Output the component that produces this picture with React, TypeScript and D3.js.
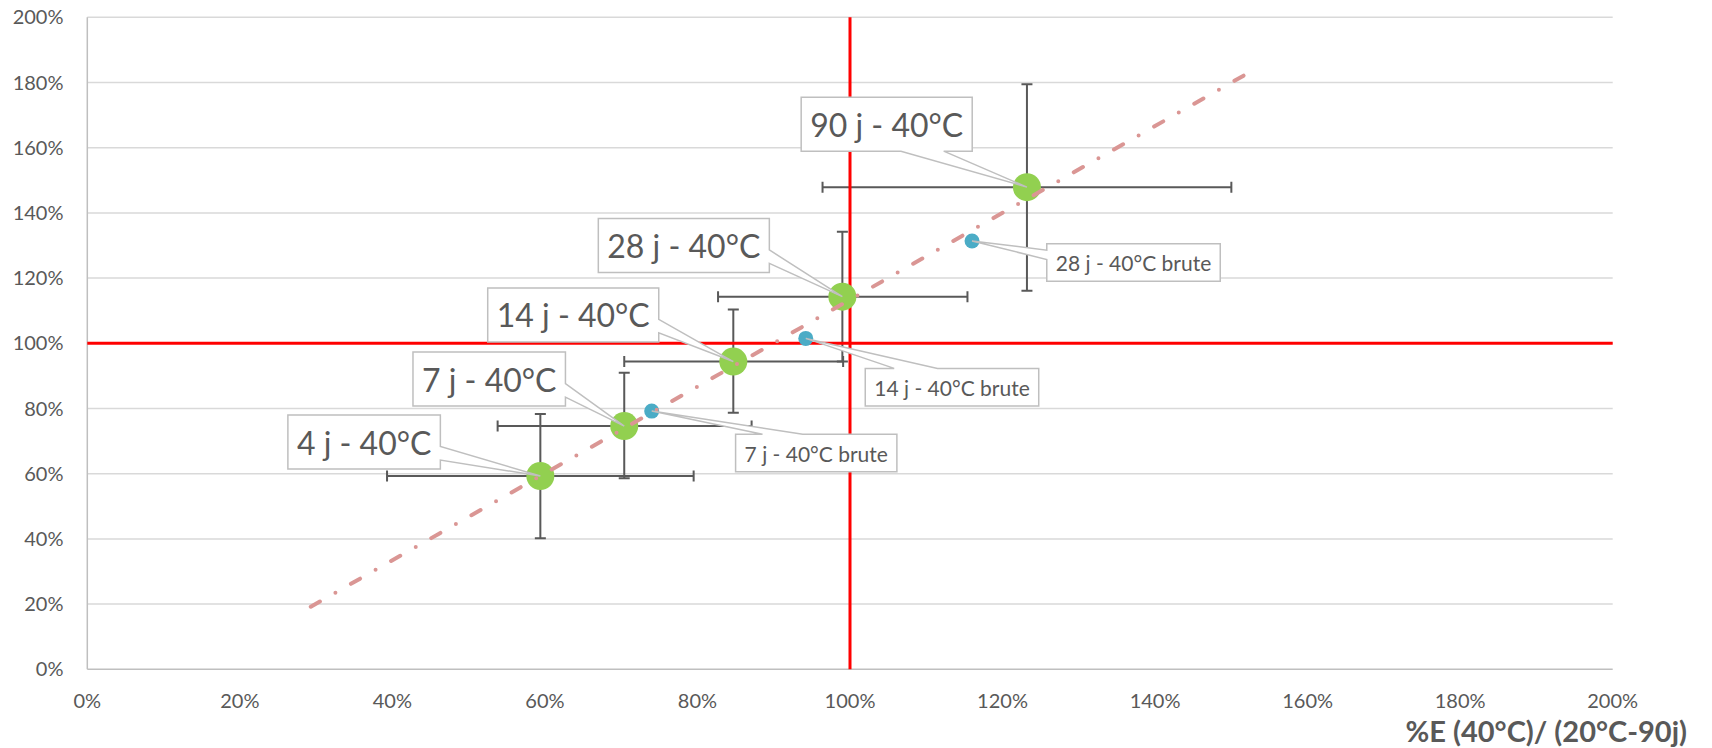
import React, { useRef, useEffect } from 'react';
import * as d3 from 'd3';

const WIDTH = 1712;
const HEIGHT = 748;

// 40°C series (green), values as fraction of the 20°C-90j reference
const agedLabels = ['4 j - 40°C', '7 j - 40°C', '14 j - 40°C', '28 j - 40°C', '90 j - 40°C'];
const agedX = [0.594, 0.704, 0.847, 0.99, 1.232];
const agedY = [0.593, 0.746, 0.944, 1.143, 1.479];
const agedXLow = [0.393, 0.538, 0.704, 0.827, 0.964];
const agedXHigh = [0.795, 0.871, 0.991, 1.154, 1.5];
const agedYLow = [0.402, 0.586, 0.787, 0.944, 1.161];
const agedYHigh = [0.783, 0.91, 1.104, 1.342, 1.795];

// raw values (blue)
const rawLabels = ['7 j - 40°C brute', '14 j - 40°C brute', '28 j - 40°C brute'];
const rawX = [0.74, 0.942, 1.16];
const rawY = [0.792, 1.015, 1.314];

// trend line ends
const trendX = [0.293, 1.516];
const trendY = [0.192, 1.821];

const ticks = [0, 0.2, 0.4, 0.6, 0.8, 1, 1.2, 1.4, 1.6, 1.8, 2];
const xTitle = '%E (40°C)/ (20°C-90j)';

// callout boxes: top-left corner in data units, and the side the tail leaves from
const agedBoxX = [0.263, 0.427, 0.525, 0.67, 0.936];
const agedBoxY = [0.78, 0.973, 1.17, 1.383, 1.755];
const agedSide = ['right', 'right', 'right', 'right', 'bottom'];
const rawBoxX = [0.85, 1.02, 1.258];
const rawBoxY = [0.721, 0.923, 1.305];
const rawSide = ['top', 'top', 'left'];

const TEXT = '#595959';

// excel style wedge rectangle callout
function calloutPath(l, t, w, h, px, py, side) {
  const r = l + w;
  const b = t + h;
  if (side === 'left' || side === 'right') {
    const below = py > t + h / 2;
    const y1 = t + (h * (below ? 7 : 2)) / 12;
    const y2 = t + (h * (below ? 10 : 5)) / 12;
    if (side === 'right') return `M${l},${t}L${r},${t}L${r},${y1}L${px},${py}L${r},${y2}L${r},${b}L${l},${b}Z`;
    return `M${l},${t}L${r},${t}L${r},${b}L${l},${b}L${l},${y2}L${px},${py}L${l},${y1}Z`;
  }
  const right = px > l + w / 2;
  const x1 = l + (w * (right ? 7 : 2)) / 12;
  const x2 = l + (w * (right ? 10 : 5)) / 12;
  if (side === 'top') return `M${l},${t}L${x1},${t}L${px},${py}L${x2},${t}L${r},${t}L${r},${b}L${l},${b}Z`;
  return `M${l},${t}L${r},${t}L${r},${b}L${x2},${b}L${px},${py}L${x1},${b}L${l},${b}Z`;
}

const Chart = () => {
  const svgRef = useRef(null);

  useEffect(() => {
    const svg = d3.select(svgRef.current);
    svg.selectAll('*').remove();

    const x = d3.scaleLinear().domain([0, 2]).range([87.3, 1612.7]);
    const y = d3.scaleLinear().domain([0, 2]).range([669.3, 17.3]);
    const pct = d3.format('.0%');

    // grid
    svg.append('g')
      .selectAll('line')
      .data(ticks.slice(1))
      .join('line')
      .attr('x1', x(0)).attr('x2', x(2))
      .attr('y1', (d) => y(d)).attr('y2', (d) => y(d))
      .attr('stroke', '#D9D9D9')
      .attr('stroke-width', 1.5);

    // axis lines
    svg.append('line')
      .attr('x1', x(0)).attr('x2', x(2)).attr('y1', y(0)).attr('y2', y(0))
      .attr('stroke', '#BFBFBF').attr('stroke-width', 1.5);
    svg.append('line')
      .attr('x1', x(0)).attr('x2', x(0)).attr('y1', y(0)).attr('y2', y(2))
      .attr('stroke', '#BFBFBF').attr('stroke-width', 1.5);

    // tick labels
    svg.append('g')
      .selectAll('text')
      .data(ticks)
      .join('text')
      .attr('x', 63.5)
      .attr('y', (d) => y(d) + 7)
      .attr('text-anchor', 'end')
      .attr('font-family', 'Lato')
      .attr('font-size', 20)
      .attr('fill', TEXT)
      .text((d) => pct(d));
    svg.append('g')
      .selectAll('text')
      .data(ticks)
      .join('text')
      .attr('x', (d) => x(d))
      .attr('y', 708)
      .attr('text-anchor', 'middle')
      .attr('font-family', 'Lato')
      .attr('font-size', 20)
      .attr('fill', TEXT)
      .text((d) => pct(d));

    svg.append('text')
      .attr('x', 1687)
      .attr('y', 742)
      .attr('text-anchor', 'end')
      .attr('font-family', 'Lato')
      .attr('font-weight', 'bold')
      .attr('font-size', 29)
      .attr('fill', TEXT)
      .text(xTitle);

    // error bars
    const cap = 5.5;
    const eb = svg.append('g').attr('stroke', '#595959').attr('stroke-width', 2).attr('fill', 'none');
    agedX.forEach((_, i) => {
      const cx = x(agedX[i]);
      const cy = y(agedY[i]);
      const xl = x(agedXLow[i]);
      const xh = x(agedXHigh[i]);
      const yl = y(agedYLow[i]);
      const yh = y(agedYHigh[i]);
      eb.append('path').attr('d', `M${xl},${cy}H${xh}M${xl},${cy - cap}V${cy + cap}M${xh},${cy - cap}V${cy + cap}`);
      eb.append('path').attr('d', `M${cx},${yl}V${yh}M${cx - cap},${yl}H${cx + cap}M${cx - cap},${yh}H${cx + cap}`);
    });

    // 100% reference lines
    svg.append('line')
      .attr('x1', x(1)).attr('x2', x(1)).attr('y1', y(0)).attr('y2', y(2))
      .attr('stroke', '#FF0000').attr('stroke-width', 3);
    svg.append('line')
      .attr('x1', x(0)).attr('x2', x(2)).attr('y1', y(1)).attr('y2', y(1))
      .attr('stroke', '#FF0000').attr('stroke-width', 3);

    // markers
    svg.append('g')
      .selectAll('circle')
      .data(agedX)
      .join('circle')
      .attr('cx', (d) => x(d))
      .attr('cy', (d, i) => y(agedY[i]))
      .attr('r', 14)
      .attr('fill', '#92D050');
    svg.append('g')
      .selectAll('circle')
      .data(rawX)
      .join('circle')
      .attr('cx', (d) => x(d))
      .attr('cy', (d, i) => y(rawY[i]))
      .attr('r', 7.5)
      .attr('fill', '#4BACC6');

    // trend line, dash-dot pattern stretched so it starts and ends on a dash
    const line = d3.line().x((d) => x(d[0])).y((d) => y(d[1]));
    const trend = svg.append('path')
      .attr('d', line(trendX.map((v, i) => [v, trendY[i]])))
      .attr('fill', 'none')
      .attr('stroke', '#DA9694')
      .attr('stroke-width', 4)
      .attr('stroke-linecap', 'round');
    const len = trend.node().getTotalLength();
    const dash = 10.5;
    const n = Math.round((len - dash) / 45.7);
    const gap = ((len - dash) / n - dash) / 2;
    trend.attr('stroke-dasharray', `${dash} ${gap} 0 ${gap}`);

    // callouts
    const drawCallouts = (labels, px, py, bx, by, side, fs, pad, h) => {
      labels.forEach((label, i) => {
        const g = svg.append('g');
        const path = g.append('path')
          .attr('fill', 'white')
          .attr('stroke', '#BFBFBF')
          .attr('stroke-width', 1.5);
        const l = x(bx[i]);
        const t = y(by[i]);
        const txt = g.append('text')
          .attr('x', l + pad)
          .attr('y', t + h / 2 + fs * 0.36 + 1)
          .attr('font-family', 'Lato')
          .attr('font-size', fs)
          .attr('fill', TEXT)
          .text(label);
        const w = txt.node().getComputedTextLength() + pad * 2;
        path.attr('d', calloutPath(l, t, w, h, x(px[i]), y(py[i]), side[i]));
      });
    };
    drawCallouts(agedLabels, agedX, agedY, agedBoxX, agedBoxY, agedSide, 32, 9, 54);
    drawCallouts(rawLabels, rawX, rawY, rawBoxX, rawBoxY, rawSide, 21, 9, 37.5);
  }, []);

  return <svg ref={svgRef} width={WIDTH} height={HEIGHT} style={{ display: 'block' }}></svg>;
};

export default function App() {
  return (
    <div style={{ position: 'absolute', left: 0, top: 0, width: WIDTH, height: HEIGHT, background: 'white' }}>
      <Chart />
    </div>
  );
}
